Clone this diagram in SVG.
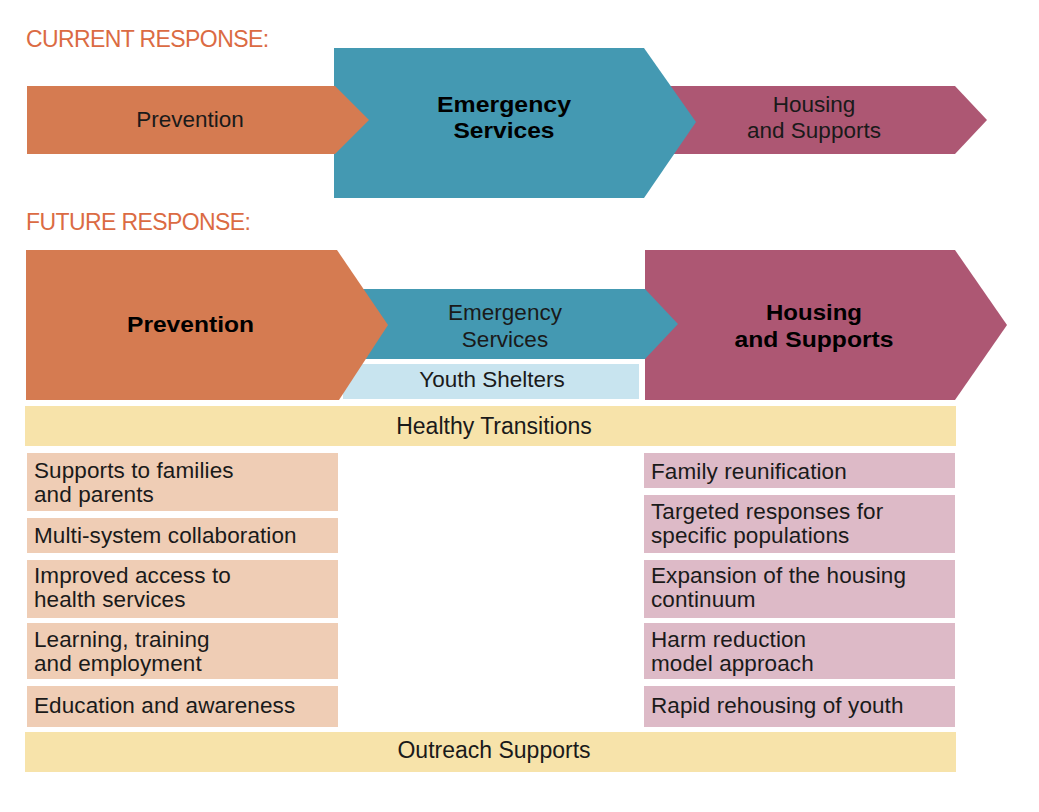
<svg xmlns="http://www.w3.org/2000/svg" width="1039" height="812" viewBox="0 0 1039 812">
<style>
text{font-family:"Liberation Sans",Arial,sans-serif;fill:#1a1a1a}
.title{font-size:23px;fill:#DB6B43;letter-spacing:-0.6px}
.lbl{font-size:22.5px;text-anchor:middle}
.bold{font-size:21.5px;font-weight:bold;text-anchor:middle;fill:#000}
.item{font-size:22.5px;letter-spacing:0.1px}
.band{font-size:23px;text-anchor:middle}
.orange{fill:#D57B51}
.teal{fill:#4499B2}
.maroon{fill:#AD5773}
.peach{fill:#EFCDB5}
.pink{fill:#DDBAC7}
.yellow{fill:#F7E3AA}
.ltblue{fill:#C8E4EF}
</style>
<rect width="1039" height="812" fill="#fff"/>
<text class="title" x="26" y="47">CURRENT RESPONSE:</text>
<text class="title" x="26" y="230">FUTURE RESPONSE:</text>
<g id="current-housing">
<polygon class="maroon" points="660,86 955,86 987,120 955,154 660,154"/>
<text class="lbl" x="814" y="112">Housing</text>
<text class="lbl" x="814" y="138">and Supports</text>
</g>
<g id="current-emergency">
<polygon class="teal" points="334,48 644,48 696,122 644,198 334,198"/>
<text class="bold" x="504" y="112" textLength="134" lengthAdjust="spacingAndGlyphs">Emergency</text>
<text class="bold" x="504" y="138" textLength="101" lengthAdjust="spacingAndGlyphs">Services</text>
</g>
<g id="current-prevention">
<polygon class="orange" points="27,86 335,86 369,120 335,154 27,154"/>
<text class="lbl" x="190" y="127">Prevention</text>
</g>
<g id="future-housing">
<polygon class="maroon" points="645,250 955,250 1007,325 955,400 645,400"/>
<text class="bold" x="814" y="320" textLength="96" lengthAdjust="spacingAndGlyphs">Housing</text>
<text class="bold" x="814" y="347" textLength="159" lengthAdjust="spacingAndGlyphs">and Supports</text>
</g>
<g id="future-emergency">
<polygon class="teal" points="360,289 645,289 678,324 645,359 360,359"/>
<text class="lbl" x="505" y="320">Emergency</text>
<text class="lbl" x="505" y="347">Services</text>
</g>
<g id="youth-shelters">
<rect class="ltblue" x="343" y="364" width="296" height="35"/>
<text class="lbl" x="492" y="387">Youth Shelters</text>
</g>
<g id="future-prevention">
<polygon class="orange" points="26,250 337,250 388,325 339,400 26,400"/>
<text class="bold" x="190.5" y="332" textLength="127" lengthAdjust="spacingAndGlyphs">Prevention</text>
</g>
<g id="healthy-transitions">
<rect class="yellow" x="25" y="406" width="931" height="40"/>
<text class="band" x="494" y="434">Healthy Transitions</text>
</g>
<g id="prev-1">
<rect class="peach" x="27" y="453" width="311" height="58"/>
<text class="item" x="34" y="478">Supports to families</text>
<text class="item" x="34" y="502">and parents</text>
</g>
<g id="prev-2">
<rect class="peach" x="27" y="518" width="311" height="35"/>
<text class="item" x="34" y="543">Multi-system collaboration</text>
</g>
<g id="prev-3">
<rect class="peach" x="27" y="560" width="311" height="58"/>
<text class="item" x="34" y="583">Improved access to</text>
<text class="item" x="34" y="607">health services</text>
</g>
<g id="prev-4">
<rect class="peach" x="27" y="623" width="311" height="56"/>
<text class="item" x="34" y="647">Learning, training</text>
<text class="item" x="34" y="671">and employment</text>
</g>
<g id="prev-5">
<rect class="peach" x="27" y="686" width="311" height="41"/>
<text class="item" x="34" y="713">Education and awareness</text>
</g>
<g id="house-1">
<rect class="pink" x="644" y="453" width="311" height="35"/>
<text class="item" x="651" y="479">Family reunification</text>
</g>
<g id="house-2">
<rect class="pink" x="644" y="495" width="311" height="58"/>
<text class="item" x="651" y="519">Targeted responses for</text>
<text class="item" x="651" y="543">specific populations</text>
</g>
<g id="house-3">
<rect class="pink" x="644" y="560" width="311" height="58"/>
<text class="item" x="651" y="583">Expansion of the housing</text>
<text class="item" x="651" y="607">continuum</text>
</g>
<g id="house-4">
<rect class="pink" x="644" y="623" width="311" height="56"/>
<text class="item" x="651" y="647">Harm reduction</text>
<text class="item" x="651" y="671">model approach</text>
</g>
<g id="house-5">
<rect class="pink" x="644" y="686" width="311" height="41"/>
<text class="item" x="651" y="713">Rapid rehousing of youth</text>
</g>
<g id="outreach-supports">
<rect class="yellow" x="25" y="732" width="931" height="40"/>
<text class="band" x="494" y="758">Outreach Supports</text>
</g>
<g id="connectors"></g>
</svg>
